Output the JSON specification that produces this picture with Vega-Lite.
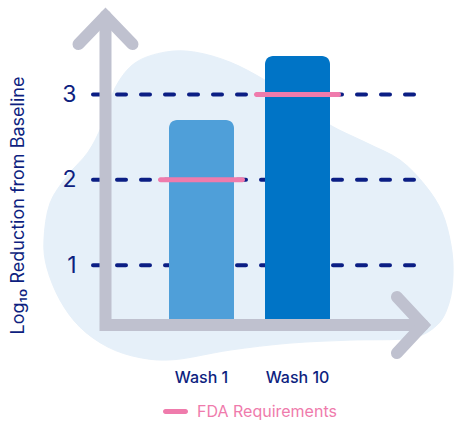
{
  "$schema": "https://vega.github.io/schema/vega-lite/v6.json",
  "width": 329,
  "height": 316,
  "autosize": {"type": "none"},
  "padding": {"left": 85, "top": 9, "right": 41, "bottom": 97},
  "background": "white",
  "config": {"view": {"stroke": null}, "font": "Inter"},
  "datasets": {
    "blob": [
      {"ord": 1, "v": -0.641, "y": 1.294},
      {"ord": 2, "v": -0.578, "y": 1.727},
      {"ord": 3, "v": -0.391, "y": 2.055},
      {"ord": 4, "v": -0.182, "y": 2.324},
      {"ord": 5, "v": -0.036, "y": 2.641},
      {"ord": 6, "v": 0.099, "y": 3.074},
      {"ord": 7, "v": 0.307, "y": 3.367},
      {"ord": 8, "v": 0.62, "y": 3.495},
      {"ord": 9, "v": 0.932, "y": 3.495},
      {"ord": 10, "v": 1.297, "y": 3.378},
      {"ord": 11, "v": 1.661, "y": 3.167},
      {"ord": 12, "v": 2.026, "y": 2.898},
      {"ord": 13, "v": 2.339, "y": 2.641},
      {"ord": 14, "v": 2.724, "y": 2.43},
      {"ord": 15, "v": 3.068, "y": 2.231},
      {"ord": 16, "v": 3.328, "y": 1.938},
      {"ord": 17, "v": 3.505, "y": 1.622},
      {"ord": 18, "v": 3.599, "y": 1.235},
      {"ord": 19, "v": 3.62, "y": 0.884},
      {"ord": 20, "v": 3.578, "y": 0.556},
      {"ord": 21, "v": 3.453, "y": 0.299},
      {"ord": 22, "v": 3.172, "y": 0.146},
      {"ord": 23, "v": 2.547, "y": 0.123},
      {"ord": 24, "v": 1.922, "y": 0.088},
      {"ord": 25, "v": 1.297, "y": 0.006},
      {"ord": 26, "v": 0.724, "y": -0.105},
      {"ord": 27, "v": 0.359, "y": -0.082},
      {"ord": 28, "v": 0.026, "y": 0.041},
      {"ord": 29, "v": -0.266, "y": 0.275},
      {"ord": 30, "v": -0.474, "y": 0.591},
      {"ord": 31, "v": -0.609, "y": 0.966}
    ],
    "grid": [{"level": 1}, {"level": 2}, {"level": 3}],
    "bars": [
      {"wash": "Wash 1", "reduction": 2.7},
      {"wash": "Wash 10", "reduction": 3.45}
    ],
    "reqs": [
      {"wash": "Wash 1", "req": 2},
      {"wash": "Wash 10", "req": 3}
    ],
    "arrows": [
      {"seg": "L", "ord": 1, "v": 0, "y": 3.917},
      {"seg": "L", "ord": 2, "v": 0, "y": 0.3},
      {"seg": "L", "ord": 3, "v": 3.307, "y": 0.3},
      {"seg": "up", "ord": 1, "v": -0.281, "y": 3.589},
      {"seg": "up", "ord": 2, "v": 0, "y": 3.917},
      {"seg": "up", "ord": 3, "v": 0.281, "y": 3.589},
      {"seg": "right", "ord": 1, "v": 3.036, "y": 0.628},
      {"seg": "right", "ord": 2, "v": 3.307, "y": 0.3},
      {"seg": "right", "ord": 3, "v": 3.036, "y": -0.028}
    ]
  },
  "layer": [
    {
      "data": {"name": "blob"},
      "mark": {"type": "line", "interpolate": "cardinal-closed", "fill": "#E6F0F9", "stroke": "#E6F0F9", "strokeWidth": 1, "clip": false},
      "encoding": {
        "x": {"field": "v", "type": "quantitative", "scale": {"domain": [-0.2135, 3.2135], "nice": false, "zero": false}, "axis": null},
        "y": {
          "field": "y", "type": "quantitative",
          "scale": {"domain": [0.3, 4.0], "nice": false, "zero": false},
          "axis": {
            "title": "Log₁₀ Reduction from Baseline",
            "values": [1, 2, 3], "format": "d", "zindex": 1,
            "labelOverlap": false, "labelFlush": false, "labelBound": false,
            "domain": false, "ticks": false, "grid": false,
            "labelFontSize": 23, "labelColor": "#0E1F80", "labelPadding": 9,
            "titleFontSize": 18, "titleFontWeight": 400, "titleColor": "#0E1F80",
            "titleX": -67, "titleY": 196, "titleAlign": "center", "titleBaseline": "middle", "titleAngle": -90
          }
        },
        "order": {"field": "ord", "type": "quantitative"}
      }
    },
    {
      "data": {"name": "grid"},
      "mark": {"type": "rule", "color": "#0B1E84", "strokeWidth": 4, "strokeDash": [9, 15], "strokeCap": "round"},
      "encoding": {"y": {"field": "level", "type": "quantitative"}}
    },
    {
      "layer": [
        {
          "data": {"name": "bars"},
          "mark": {"type": "bar", "cornerRadiusTopLeft": 8, "cornerRadiusTopRight": 8},
          "encoding": {
            "x": {
              "field": "wash", "type": "nominal", "sort": null,
              "scale": {"paddingInner": 0.323, "paddingOuter": 0.875},
              "axis": {"title": null, "domain": false, "ticks": false, "labelAngle": 0, "labelPadding": 44, "labelFontSize": 16, "labelFontWeight": 500, "labelColor": "#0E1F80"}
            },
            "y": {"field": "reduction", "type": "quantitative"},
            "y2": {"datum": 0.3},
            "fill": {"field": "wash", "type": "nominal", "scale": {"range": ["#4F9FD9", "#0074C6"]}, "legend": null}
          }
        },
        {
          "data": {"name": "reqs"},
          "mark": {"type": "tick", "size": 87, "thickness": 5, "cornerRadius": 2.5, "opacity": 1},
          "encoding": {
            "x": {"field": "wash", "type": "nominal", "sort": null},
            "y": {"field": "req", "type": "quantitative"},
            "color": {
              "datum": "FDA Requirements",
              "scale": {"range": ["#EF7BAC"]},
              "legend": {
                "title": null, "orient": "none", "legendX": 77, "legendY": 389,
                "symbolType": "M-0.8,-0.2H0.8A0.2,0.2 0 0 1 0.8,0.2H-0.8A0.2,0.2 0 0 1 -0.8,-0.2Z",
                "symbolSize": 625, "symbolOpacity": 1,
                "labelFontSize": 16, "labelColor": "#EF7BAC", "labelOffset": 8
              }
            }
          }
        }
      ]
    },
    {
      "data": {"name": "arrows"},
      "mark": {"type": "line", "color": "#BFC1CF", "strokeWidth": 12, "strokeCap": "round", "strokeJoin": "miter", "clip": false},
      "encoding": {
        "x": {"field": "v", "type": "quantitative", "scale": {"domain": [-0.2135, 3.2135], "nice": false, "zero": false}, "axis": null},
        "y": {"field": "y", "type": "quantitative"},
        "detail": {"field": "seg", "type": "nominal"},
        "order": {"field": "ord", "type": "quantitative"}
      }
    }
  ],
  "resolve": {"scale": {"x": "independent"}}
}
